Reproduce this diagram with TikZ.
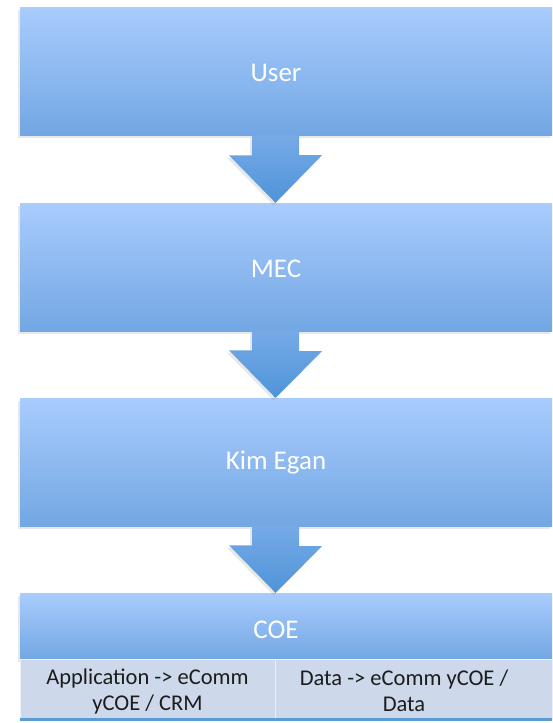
\documentclass[tikz,border=0pt]{standalone}
\usepackage{fontspec}
\setmainfont{Carlito}
\usetikzlibrary{shadows,positioning}
\definecolor{boxtop}{HTML}{A9CCFD}
\definecolor{boxbot}{HTML}{72A7E3}
\definecolor{arrtop}{HTML}{76AAE7}
\definecolor{arrbot}{HTML}{4F94D8}
\definecolor{cellfill}{HTML}{CDD9EA}
\definecolor{edgeline}{HTML}{5B9BD5}
\definecolor{celltext}{HTML}{1C1C1C}

\begin{document}
\begin{tikzpicture}[x=1pt,y=-1pt,
    softshadow/.style={drop shadow={shadow xshift=-2pt,shadow yshift=-2.5pt,opacity=.18}},
    stage/.style={minimum width=532pt,minimum height=128pt,inner sep=0pt,
      top color=boxtop,bottom color=boxbot,softshadow},
    stagetext/.style={text=white,font=\fontsize{27}{32}\selectfont,inner sep=0pt},
    cell/.style={minimum height=60pt,inner sep=0pt,fill=cellfill,draw=white!60!cellfill,line width=.8pt},
    celltext/.style={text=celltext,font=\fontsize{22.5}{26}\selectfont,align=center,inner sep=0pt},
    blockarrow/.style={top color=arrtop,bottom color=arrbot,softshadow}]
  \useasboundingbox[fill=white] (0,0) rectangle (552,723);

  % stages
  \node[stage] (user) at (286,71) {};
  \node[stage] (mec) at (286,267) {};
  \node[stage] (kim) at (286,462) {};
  \node[stage,minimum height=66pt] (coe) at (286,626) {};
  \node[stagetext] (usertext) at ([xshift=-10pt,yshift=-2pt]user.center) {User};
  \node[stagetext] (mectext) at ([xshift=-10pt,yshift=-2pt]mec.center) {MEC};
  \node[stagetext] (kimtext) at ([xshift=-10pt,yshift=-1pt]kim.center) {Kim Egan};
  \node[stagetext] (coetext) at ([xshift=-10pt,yshift=-4pt]coe.center) {COE};

  % COE split
  \node[cell,minimum width=255pt] (appcell) at (147.5,689) {};
  \node[cell,minimum width=277pt] (datacell) at (413.5,689) {};
  \node[celltext] (apptext) at ([yshift=-2pt]appcell.center) {Application -> eComm\\yCOE / CRM};
  \node[celltext] (datatext) at ([xshift=-9.5pt,yshift=-2pt]datacell.center) {Data -> eComm yCOE /\\Data};
  \draw[edgeline,line width=2.2pt] (appcell.south west) -- (datacell.south east);

  % block arrows
  \foreach \a/\b in {user/mec,mec/kim,kim/coe}
    \path[blockarrow] ([xshift=-34pt]\a.south) -- ([xshift=13pt]\a.south) -- ++(0,20)
      -- ++(23,0) -- ([xshift=-10.5pt]\b.north) -- ++(-46.5,-47.5) -- ++(23,0) -- cycle;
\end{tikzpicture}
\end{document}
